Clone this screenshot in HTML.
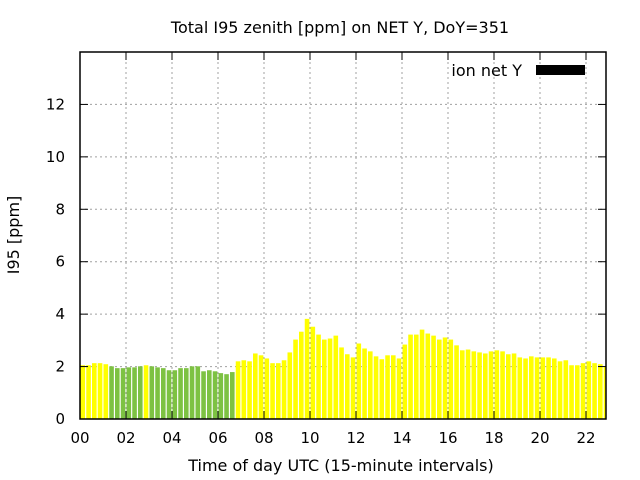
<!DOCTYPE html>
<html><head><meta charset="utf-8"><style>
body{margin:0;background:#fff}
svg{display:block;font-family:"DejaVu Sans","Liberation Sans",sans-serif;font-size:15px}
.big{font-size:16px}
</style></head><body>
<svg id="chart" width="640" height="480">
<text class="big" x="340" y="33" text-anchor="middle">Total I95 zenith [ppm] on NET Y, DoY=351</text>
<text class="big" x="341" y="471" text-anchor="middle">Time of day UTC (15-minute intervals)</text>
<text class="big" transform="translate(19,235) rotate(-90)" text-anchor="middle">I95 [ppm]</text>
<g id="grid"></g><g id="bars"></g><g id="axes"></g>
<text class="big" x="522" y="76" text-anchor="end">ion net Y</text>
<rect x="536" y="65" width="49" height="10" fill="#000"/>
</svg>
<script>
const values=[2.05,2.05,2.13,2.13,2.09,2.01,1.94,1.94,1.97,1.97,2.01,2.05,2.01,1.97,1.94,1.86,1.86,1.94,1.94,2.01,2.01,1.82,1.86,1.82,1.75,1.71,1.79,2.2,2.24,2.2,2.5,2.43,2.31,2.13,2.13,2.24,2.54,3.03,3.33,3.82,3.52,3.22,3.03,3.07,3.18,2.73,2.47,2.35,2.88,2.69,2.58,2.39,2.28,2.43,2.43,2.31,2.84,3.22,3.22,3.41,3.26,3.18,3.03,3.11,3.03,2.81,2.62,2.65,2.58,2.54,2.5,2.58,2.62,2.58,2.47,2.5,2.35,2.31,2.39,2.35,2.35,2.35,2.31,2.2,2.24,2.05,2.05,2.13,2.2,2.13,2.09,2.01];
const flags=[0,0,0,0,0,1,1,1,1,1,1,0,1,1,1,1,1,1,1,1,1,1,1,1,1,1,1,0,0,0,0,0,0,0,0,0,0,0,0,0,0,0,0,0,0,0,0,0,0,0,0,0,0,0,0,0,0,0,0,0,0,0,0,0,0,0,0,0,0,0,0,0,0,0,0,0,0,0,0,0,0,0,0,0,0,0,0,0,0,0,0,0];
const xTicks=["00","02","04","06","08","10","12","14","16","18","20","22"];
const yTicks=[0,2,4,6,8,10,12];
const NS="http://www.w3.org/2000/svg";
const L=80,R=606,T=52,B=419,XMAX=(R-L)/23,YMAX=14;
const sx=h=>L+h*(R-L)/XMAX, sy=v=>B-v*(B-T)/YMAX;
function mk(tag,at,parent){const e=document.createElementNS(NS,tag);for(const k in at)e.setAttribute(k,at[k]);parent.appendChild(e);return e;}
const grid=document.getElementById('grid'),bars=document.getElementById('bars'),axes=document.getElementById('axes');
yTicks.forEach((v,i)=>{
  if(v>0){const g=mk('line',{x1:L,x2:R,y1:sy(v),y2:sy(v),stroke:'#a0a0a0','stroke-dasharray':'2,3'},grid);
  
  }
  const t=mk('text',{x:65,y:sy(v)+5,'text-anchor':'end'},axes);t.textContent=v;
  
  
  mk('line',{x1:L,x2:L+8,y1:sy(v),y2:sy(v),stroke:'#000'},axes);
  mk('line',{x1:R,x2:R-8,y1:sy(v),y2:sy(v),stroke:'#000'},axes);
});
xTicks.forEach((lab,i)=>{
  const x=sx(i*2);
  if(i>0){const g=mk('line',{x1:x,x2:x,y1:T,y2:B,stroke:'#a0a0a0','stroke-dasharray':'2,3'},grid);
  
  }
  const t=mk('text',{x:x,y:443,'text-anchor':'middle'},axes);t.textContent=lab;
  
  
  mk('line',{x1:x,x2:x,y1:B,y2:B-8,stroke:'#000'},axes);
  mk('line',{x1:x,x2:x,y1:T,y2:T+8,stroke:'#000'},axes);
});
const clip=mk('clipPath',{id:'pc'},document.getElementById('chart'));
mk('rect',{x:L,y:T,width:R-L,height:B-T},clip);
bars.setAttribute('clip-path','url(#pc)');
values.forEach((v,i)=>{
  const x0=sx(i*0.25)+0.5,x1=sx(i*0.25+0.2)+0.5;
  const b=mk('rect',{x:x0,y:sy(v),width:x1-x0,height:B-sy(v),fill:flags[i]?'#7dc242':'#ffff00'},bars);
  
  
});
const f=mk('rect',{x:L,y:T,width:R-L,height:B-T,fill:'none',stroke:'#000','stroke-width':1.5},axes);


</script>
</body></html>
